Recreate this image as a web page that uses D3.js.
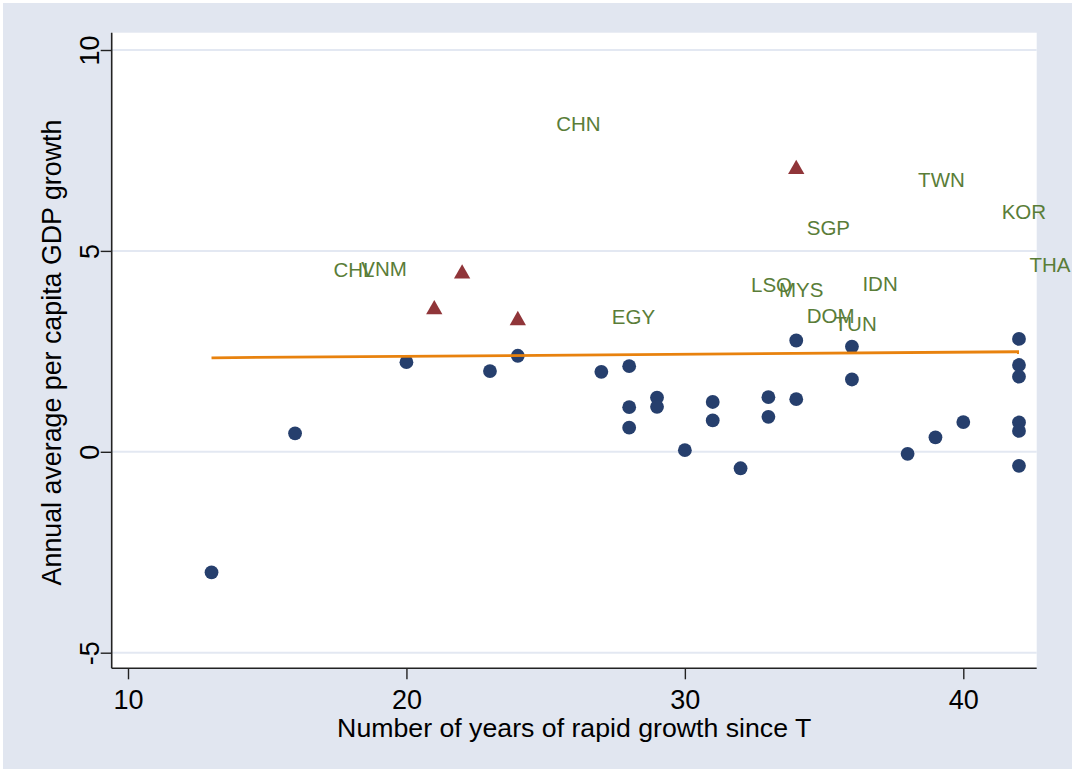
<!DOCTYPE html>
<html>
<head>
<meta charset="utf-8">
<script src="https://cdn.jsdelivr.net/npm/d3@7"></script>
<style>
  html, body { margin: 0; padding: 0; background: #ffffff; }
  svg { display: block; }
  text { font-family: "Liberation Sans", Arial, Helvetica, sans-serif; }
</style>
</head>
<body>
<svg id="chart" width="1075" height="772"></svg>
<script>
// Years of rapid growth vs. subsequent annual per-capita GDP growth
const years  = [13, 16, 20, 23, 24, 27, 28, 28, 28, 29, 29, 30, 31, 31, 32,
                33, 33, 34, 34, 36, 36, 38, 39, 40, 42, 42, 42, 42, 42, 42];
const growth = [-3.00, 0.46, 2.23, 2.01, 2.39, 1.99, 2.13, 1.11, 0.60, 1.35, 1.12, 0.04, 1.24, 0.78, -0.41,
                1.36, 0.87, 2.77, 1.31, 2.62, 1.80, -0.05, 0.36, 0.74, 2.81, 2.16, 1.87, 0.73, 0.52, -0.35];

// Second group, drawn as triangles
const triYears  = [21, 22, 24, 34];
const triGrowth = [3.60, 4.49, 3.33, 7.09];

// Labelled economies (label only, no marker)
const labelCodes  = ["CHL", "VNM", "CHN", "EGY", "LSO", "MYS", "SGP", "DOM", "TUN", "IDN", "TWN", "KOR", "THA"];
const labelYears  = [17, 18, 25, 27, 32, 33, 34, 34, 35, 36, 38, 41, 42];
const labelGrowth = [4.54, 4.57, 8.16, 3.36, 4.17, 4.03, 5.57, 3.40, 3.20, 4.19, 6.78, 5.98, 4.65];

// Linear fit through the circles
const fitYears  = [13, 42];
const fitGrowth = [2.34, 2.49];

// Axis ticks
const xTicks = [10, 20, 30, 40];
const yTicks = [-5, 0, 5, 10];

const xTitle = "Number of years of rapid growth since T";
const yTitle = "Annual average per capita GDP growth";

const W = 1075, H = 772;
const plot = { left: 111.7, right: 1036.7, top: 32.7, bottom: 668.3 };

const svg = d3.select("#chart");

const x = d3.scaleLinear().domain([10, 40]).range([128, 963.3]);
const y = d3.scaleLinear().domain([-5, 10]).range([652.7, 50]);

const colors = {
  frame: "#ffffff",
  bg: "#e1e6f0",
  plotBg: "#ffffff",
  grid: "#e3e8f2",
  axis: "#222222",
  dot: "#263f6d",
  tri: "#903539",
  label: "#5a7d38",
  fit: "#e8820e",
  text: "#000000"
};

// Plain ASCII tick text (hyphen-minus for negatives)
const plainFormat = d => String(d);

// Outer frame, graph region and plot region
svg.append("rect").attr("width", W).attr("height", H).attr("fill", colors.frame);
svg.append("rect").attr("x", 3).attr("y", 3).attr("width", W - 6).attr("height", H - 6).attr("fill", colors.bg);
svg.append("rect")
  .attr("x", plot.left).attr("y", plot.top)
  .attr("width", plot.right - plot.left).attr("height", plot.bottom - plot.top)
  .attr("fill", colors.plotBg);

// Horizontal grid lines
svg.append("g").selectAll("line").data(yTicks).join("line")
  .attr("x1", plot.left).attr("x2", plot.right)
  .attr("y1", d => y(d)).attr("y2", d => y(d))
  .attr("stroke", colors.grid).attr("stroke-width", 2);

// Y axis
const yAxis = svg.append("g")
  .attr("transform", `translate(${plot.left},0)`)
  .call(d3.axisLeft(y).tickValues(yTicks).tickSize(11).tickFormat(plainFormat));
yAxis.select(".domain").remove();
yAxis.selectAll(".tick line").attr("stroke", colors.axis).attr("stroke-width", 1.4);
yAxis.selectAll(".tick text")
  .attr("x", 0).attr("y", -12.7).attr("dy", 0)
  .attr("transform", "rotate(-90)")
  .attr("text-anchor", "middle")
  .attr("font-size", 27)
  .attr("font-family", "Liberation Sans, Arial, sans-serif")
  .attr("fill", colors.text);

// X axis
const xAxis = svg.append("g")
  .attr("transform", `translate(0,${plot.bottom})`)
  .call(d3.axisBottom(x).tickValues(xTicks).tickSize(11).tickFormat(plainFormat));
xAxis.select(".domain").remove();
xAxis.selectAll(".tick line").attr("stroke", colors.axis).attr("stroke-width", 1.4);
xAxis.selectAll(".tick text")
  .attr("y", 40.5).attr("dy", 0)
  .attr("font-size", 27)
  .attr("font-family", "Liberation Sans, Arial, sans-serif")
  .attr("fill", colors.text);

// Axis lines
svg.append("line")
  .attr("x1", plot.left).attr("x2", plot.left)
  .attr("y1", plot.top).attr("y2", plot.bottom)
  .attr("stroke", colors.axis).attr("stroke-width", 1.6);
svg.append("line")
  .attr("x1", plot.left).attr("x2", plot.right)
  .attr("y1", plot.bottom).attr("y2", plot.bottom)
  .attr("stroke", colors.axis).attr("stroke-width", 1.6);

// Axis titles
svg.append("text")
  .attr("x", (plot.left + plot.right) / 2).attr("y", 737)
  .attr("text-anchor", "middle").attr("font-size", 26.7)
  .attr("fill", colors.text).text(xTitle);
svg.append("text")
  .attr("transform", `translate(61,${(plot.top + plot.bottom) / 2 + 2}) rotate(-90)`)
  .attr("text-anchor", "middle").attr("font-size", 26.8)
  .attr("fill", colors.text).text(yTitle);

// Circles
const dots = years.map((v, i) => ({ x: v, y: growth[i] }));
svg.append("g").selectAll("circle").data(dots).join("circle")
  .attr("cx", d => x(d.x)).attr("cy", d => y(d.y))
  .attr("r", 6.9).attr("fill", colors.dot);

// Triangles (bounding box centred on the point)
const triW = 16.3, triH = 14.3;
const tris = triYears.map((v, i) => ({ x: v, y: triGrowth[i] }));
svg.append("g").selectAll("path").data(tris).join("path")
  .attr("d", d => {
    const cx = x(d.x), cy = y(d.y);
    return `M${cx},${cy - triH / 2}L${cx + triW / 2},${cy + triH / 2}L${cx - triW / 2},${cy + triH / 2}Z`;
  })
  .attr("fill", colors.tri);

// Country labels, to the right of their (invisible) points
const labels = labelCodes.map((c, i) => ({ code: c, x: labelYears[i], y: labelGrowth[i] }));
svg.append("g").selectAll("text").data(labels).join("text")
  .attr("x", d => x(d.x) + 10.5)
  .attr("y", d => y(d.y) + 7.4)
  .attr("font-size", 20.5)
  .attr("fill", colors.label)
  .text(d => d.code);

// Fitted line
const fit = fitYears.map((v, i) => [v, fitGrowth[i]]);
svg.append("path")
  .datum(fit)
  .attr("d", d3.line().x(d => x(d[0])).y(d => y(d[1])))
  .attr("fill", "none").attr("stroke", colors.fit).attr("stroke-width", 2.8);
</script>
</body>
</html>
